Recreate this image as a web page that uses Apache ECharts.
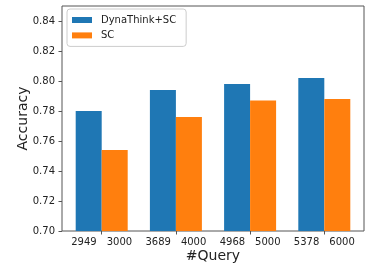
<!DOCTYPE html>
<html>
<head>
<meta charset="utf-8">
<script src="https://cdn.jsdelivr.net/npm/echarts@6/dist/echarts.min.js"></script>
<style>
  html, body { margin: 0; padding: 0; background: #fff; }
  #chart { width: 369px; height: 266px; }
</style>
</head>
<body>
<div id="chart"></div>
<script>
// query counts under each bar (DynaThink+SC, SC)
const dynaQueries = [2949, 3689, 4968, 5378]
const scQueries = [3000, 4000, 5000, 6000]
// accuracy values
const dynaThinkSC = [0.780, 0.794, 0.798, 0.802]
const scOnly = [0.754, 0.776, 0.787, 0.788]
const yTicks = [0.70, 0.72, 0.74, 0.76, 0.78, 0.80, 0.82, 0.84]
const groupPos = [0, 1, 2, 3]

const font = 'DejaVu Sans'
const chart = echarts.init(document.getElementById('chart'))

const option = {
  animation: false,
  color: ['#1f77b4', '#ff7f0e'],
  grid: {
    left: 62,
    right: 5,
    top: 6,
    bottom: 35,
    outerBoundsMode: 'none',
    show: true,
    borderColor: '#555',
    borderWidth: 1,
  },
  legend: {
    orient: 'vertical',
    left: 67,
    top: 9,
    padding: [5, 10, 5, 5],
    itemWidth: 20,
    itemHeight: 6,
    itemGap: 3.4,
    borderColor: '#ccc',
    borderWidth: 1,
    borderRadius: 3,
    icon: 'rect',
    textStyle: {
      fontFamily: font,
      fontSize: 10,
      color: '#222',
      lineHeight: 12,
      padding: [0, 0, 0, 4],
    },
    data: ['DynaThink+SC', 'SC'],
  },
  xAxis: {
    type: 'value',
    min: -0.535,
    max: 3.535,
    name: '#Query',
    nameLocation: 'middle',
    nameGap: 18,
    nameMoveOverlap: false,
    nameTextStyle: { fontFamily: font, fontSize: 14, color: '#222' },
    splitLine: { show: false },
    axisLine: { show: false, onZero: false },
    axisTick: {
      show: true,
      length: 3.5,
      customValues: groupPos,
      lineStyle: { color: '#555' },
    },
    axisLabel: {
      customValues: groupPos,
      margin: 6,
      fontFamily: font,
      fontSize: 10,
      color: '#222',
      formatter: (v) => {
        const i = Math.round(v)
        return '{a|' + dynaQueries[i] + '}{b|' + scQueries[i] + '}'
      },
      rich: {
        a: { fontFamily: font, fontSize: 10, color: '#222', padding: [0, 5, 0, 0] },
        b: { fontFamily: font, fontSize: 10, color: '#222', padding: [0, 0, 0, 5] },
      },
    },
  },
  yAxis: {
    type: 'value',
    min: 0.70,
    max: 0.85,
    name: 'Accuracy',
    nameLocation: 'middle',
    nameGap: 32,
    nameMoveOverlap: false,
    nameTextStyle: { fontFamily: font, fontSize: 14, color: '#222' },
    splitLine: { show: false },
    axisLine: { show: false, onZero: false },
    axisTick: {
      show: true,
      length: 3.5,
      customValues: yTicks,
      lineStyle: { color: '#555' },
    },
    axisLabel: {
      customValues: yTicks,
      margin: 7,
      fontFamily: font,
      fontSize: 10,
      color: '#222',
      formatter: (v) => v.toFixed(2),
    },
  },
  series: [
    {
      name: 'DynaThink+SC',
      type: 'bar',
      barWidth: 26,
      barGap: '0%',
      data: groupPos.map((x, i) => [x, dynaThinkSC[i]]),
    },
    {
      name: 'SC',
      type: 'bar',
      barWidth: 26,
      barGap: '0%',
      data: groupPos.map((x, i) => [x, scOnly[i]]),
    },
  ],
}

chart.setOption(option)
</script>
</body>
</html>
